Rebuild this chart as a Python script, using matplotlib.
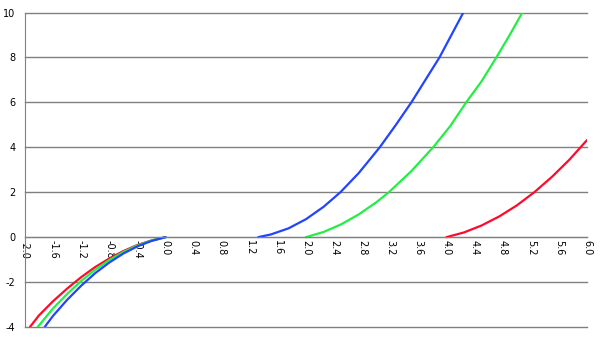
import numpy as np
import matplotlib
matplotlib.use("Agg")
import matplotlib.pyplot as plt

# left branch
left_red_x = [-1.93, -1.8, -1.6, -1.4, -1.2, -1.0, -0.8, -0.6, -0.4, -0.2, 0.0]
left_red_y = [-4.0, -3.48, -2.85, -2.29, -1.78, -1.33, -0.95, -0.62, -0.35, -0.15, 0.0]
left_green_x = [-1.82, -1.6, -1.4, -1.2, -1.0, -0.8, -0.6, -0.4, -0.2, 0.0]
left_green_y = [-4.0, -3.17, -2.53, -1.95, -1.45, -1.02, -0.66, -0.37, -0.15, 0.0]
left_blue_x = [-1.72, -1.6, -1.4, -1.2, -1.0, -0.8, -0.6, -0.4, -0.2, 0.0]
left_blue_y = [-4.0, -3.50, -2.79, -2.16, -1.60, -1.13, -0.73, -0.41, -0.17, 0.0]

# right branch
blue_x = [1.32, 1.5, 1.75, 2.0, 2.25, 2.49, 2.75, 3.05, 3.28, 3.5, 3.7, 3.9, 4.07, 4.24]
blue_y = [0.0, 0.12, 0.39, 0.80, 1.35, 2.0, 2.85, 4.0, 5.0, 6.0, 7.0, 8.0, 9.0, 10.0]
green_x = [2.0, 2.25, 2.5, 2.75, 3.0, 3.18, 3.5, 3.81, 4.05, 4.28, 4.5, 4.71, 4.9, 5.08]
green_y = [0.0, 0.23, 0.57, 1.01, 1.55, 2.0, 2.94, 4.0, 4.93, 6.0, 6.94, 8.0, 9.0, 10.0]
red_x = [4.0, 4.25, 4.5, 4.75, 5.0, 5.25, 5.5, 5.75, 6.0]
red_y = [0.0, 0.21, 0.52, 0.92, 1.41, 2.0, 2.68, 3.45, 4.32]

x_ticks = [-2.0, -1.6, -1.2, -0.8, -0.4, 0.0, 0.4, 0.8, 1.2, 1.6, 2.0,
           2.4, 2.8, 3.2, 3.6, 4.0, 4.4, 4.8, 5.2, 5.6, 6.0]
x_labels = ["-2.0", "-1.6", "-1.2", "-0.8", "-0.4", "0.0", "0.4", "0.8", "1.2", "1.6", "2.0",
            "2.4", "2.8", "3.2", "3.6", "4.0", "4.4", "4.8", "5.2", "5.6", "6.0"]
y_ticks = [-4, -2, 0, 2, 4, 6, 8, 10]

red = "#ff0a2a"
green = "#22ee44"
blue = "#2244ff"

fig = plt.figure(figsize=(6, 3.4), dpi=100)
ax = fig.add_axes([25 / 600, 1 - 327 / 340, 562 / 600, (327 - 12.5) / 340])

for xs, ys, c in [(left_red_x, left_red_y, red), (left_green_x, left_green_y, green),
                  (left_blue_x, left_blue_y, blue), (blue_x, blue_y, blue),
                  (green_x, green_y, green), (red_x, red_y, red)]:
    ax.plot(xs, ys, color=c, lw=1.6, solid_capstyle="round")

ax.set_xlim(-2, 6)
ax.set_ylim(-4, 10)
ax.set_yticks(y_ticks)
ax.set_yticklabels([str(v) for v in y_ticks])
ax.set_xticks(x_ticks)
ax.set_xticklabels(x_labels)

ax.grid(axis="y", color="#808080", lw=1)
ax.set_axisbelow(True)
for gl in ax.get_ygridlines():
    gl.set_clip_on(False)
for s in ["top", "right"]:
    ax.spines[s].set_visible(False)
ax.spines["bottom"].set_position(("data", 0))
ax.spines["bottom"].set_color("#808080")
ax.spines["left"].set_color("#808080")
ax.tick_params(axis="both", length=0, labelsize=7)
ax.tick_params(axis="y", pad=7)
ax.tick_params(axis="x", pad=2, labelrotation=-90)
for lab in ax.get_xticklabels():
    lab.set_va("top")
    lab.set_ha("center")

fig.savefig("out.png", dpi=100)
